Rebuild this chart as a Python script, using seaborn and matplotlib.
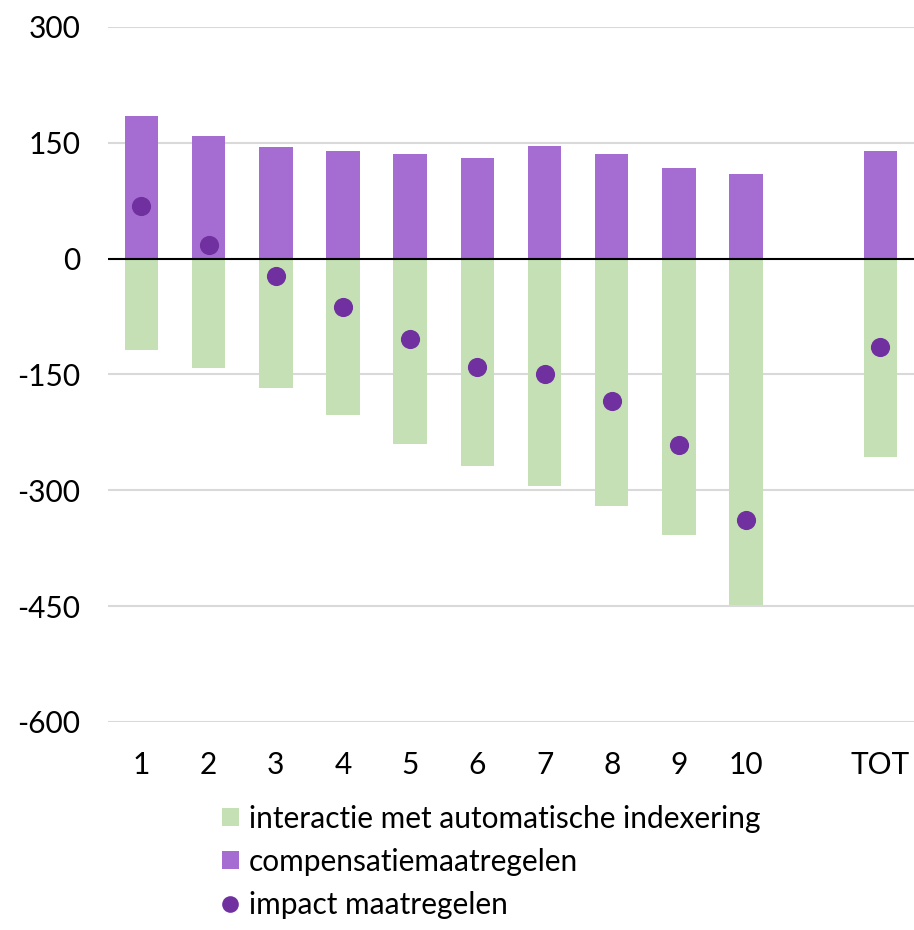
import matplotlib
matplotlib.use("Agg")
import matplotlib.pyplot as plt
import seaborn as sns
import pandas as pd
from matplotlib.patches import Patch
from matplotlib.lines import Line2D

categories = ["1", "2", "3", "4", "5", "6", "7", "8", "9", "10", "TOT"]
compensatie = [185, 159, 145, 140, 136, 130, 146, 136, 117, 109, 140]
interactie = [-118, -141, -167, -203, -240, -268, -295, -320, -358, -448, -257]
impact = [68, 18, -22, -63, -104, -140, -149, -184, -241, -339, -115]

order = ["1", "2", "3", "4", "5", "6", "7", "8", "9", "10", " ", "TOT"]
yticks = [-600, -450, -300, -150, 0, 150, 300]

df = pd.DataFrame({"cat": categories, "comp": compensatie,
                   "inter": interactie, "impact": impact})

sns.set_theme(style="white")
plt.rcParams["font.family"] = ["Lato", "DejaVu Sans"]
plt.rcParams["text.color"] = "black"

GREEN = "#C5E0B4"
PURPLE = "#A56CD1"
DARK = "#7030A0"
FS = 21.5

fig = plt.figure(figsize=(9.14, 9.30), dpi=100)
ax = fig.add_axes([0.118, 0.2237, 0.882, 0.7473])

for y in yticks:
    if y != 0:
        ax.axhline(y, color="#D9D9D9", lw=1.5, zorder=0)

sns.barplot(data=df, x="cat", y="comp", order=order, color=PURPLE,
            width=0.5, saturation=1, linewidth=0, ax=ax, zorder=2)
sns.barplot(data=df, x="cat", y="inter", order=order, color=GREEN,
            width=0.5, saturation=1, linewidth=0, ax=ax, zorder=2)
ax.axhline(0, color="black", lw=1.5, zorder=3)
sns.stripplot(data=df, x="cat", y="impact", order=order, color=DARK,
              jitter=False, size=13.8, linewidth=0, ax=ax, zorder=4)

ax.set_xlim(-0.5, 11.5)
ax.set_ylim(-600, 300)
ax.set_yticks(yticks)
ax.set_yticklabels([str(v) for v in yticks])
ax.set_xlabel("")
ax.set_ylabel("")
ax.tick_params(axis="both", length=0, labelsize=FS, colors="black")
ax.tick_params(axis="y", pad=20)
ax.tick_params(axis="x", pad=21)
for s in ax.spines.values():
    s.set_visible(False)

handles = [
    Patch(facecolor=GREEN, edgecolor="none", label="interactie met automatische indexering"),
    Patch(facecolor=PURPLE, edgecolor="none", label="compensatiemaatregelen"),
    Line2D([0], [0], marker="o", color="none", markerfacecolor=DARK,
           markeredgecolor="none", markersize=12, label="impact maatregelen"),
]
fig.legend(handles=handles, loc="upper left", bbox_to_anchor=(0.243, 0.1345),
           frameon=False, fontsize=FS, handlelength=0.55, handleheight=0.55,
           handletextpad=0.35, labelspacing=0.5, borderaxespad=0, borderpad=0,
           labelcolor="black")

fig.savefig("out.png", dpi=100)
